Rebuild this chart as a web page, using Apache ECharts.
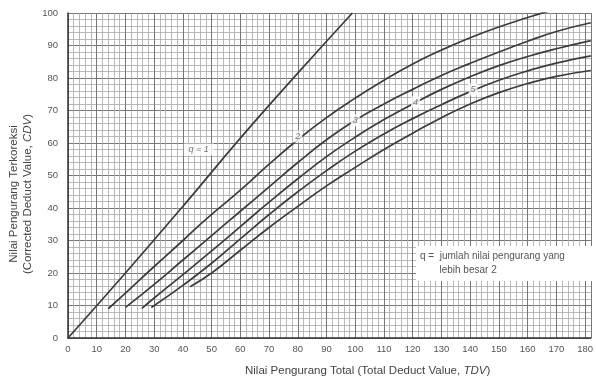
<!DOCTYPE html>
<html>
<head>
<meta charset="utf-8">
<script src="https://cdn.jsdelivr.net/npm/echarts@6/dist/echarts.min.js"></script>
<style>
  html, body { margin: 0; padding: 0; background: #fff; }
  #cdv { width: 596px; height: 385px; }
</style>
</head>
<body>
<div id="cdv"></div>
<script>
// x = TDV, y = CDV
const q1X = [0, 20, 40, 60, 80, 99];
const q1Y = [0, 20, 40.5, 61.5, 81.5, 100];

const q2X = [14, 20, 30, 40, 48, 60, 70, 80, 90, 100, 110, 120, 130, 140, 150, 160, 167];
const q2Y = [9, 13.8, 22, 30, 36.5, 45.5, 53.5, 61, 67.8, 73.8, 79.3, 84.3, 88.6, 92.4, 95.7, 98.6, 100.5];

const q3X = [20, 30, 40, 50, 60, 70, 80, 90, 100, 110, 120, 130, 140, 150, 160, 170, 182];
const q3Y = [9.4, 16.5, 24, 31.5, 39, 46.5, 54, 61, 67, 72, 76.5, 80.8, 84.5, 88, 91.3, 94.3, 97];

const q4X = [25.7, 30, 40, 50, 60, 70, 80, 90, 100, 110, 120, 130, 140, 150, 160, 170, 182];
const q4Y = [9.1, 12.3, 19.5, 26.8, 34.3, 41.8, 49, 55.8, 61.8, 67.2, 72, 76.5, 80.4, 83.8, 86.6, 89, 91.5];

const q5X = [29, 40, 50, 60, 70, 80, 90, 100, 110, 120, 130, 140, 150, 160, 170, 182];
const q5Y = [9.4, 16.2, 23, 30.5, 38, 45, 51.5, 57.5, 62.8, 67.5, 71.8, 75.8, 79.3, 82.2, 84.6, 86.8];

const q6X = [42.5, 50, 60, 70, 80, 90, 100, 110, 120, 130, 140, 150, 160, 170, 182];
const q6Y = [15.8, 20, 27, 34, 40.5, 46.8, 52.5, 58, 63, 67.8, 72, 75.5, 78.3, 80.5, 82.3];

// curve labels (text + where they sit in TDV/CDV)
const curveLabels = ['q = 1', '2', '3', '4', '5'];
const curveLabelX = [45.5, 80, 100, 121, 141];
const curveLabelY = [58, 62, 67, 72.5, 76.5];

const xTickStep = 10;
const yTickStep = 10;

const noteLines = ['q =  jumlah nilai pengurang yang', '       lebih besar 2'];

const pairs = (xs, ys) => xs.map((x, i) => [x, ys[i]]);

const chart = echarts.init(document.getElementById('cdv'));

const curve = (name, xs, ys) => ({
  name: name,
  type: 'line',
  smooth: true,
  showSymbol: false,
  silent: true,
  lineStyle: { color: '#3c3c3c', width: 1.7 },
  data: pairs(xs, ys),
  z: 3,
});

chart.setOption({
  animation: false,
  textStyle: { fontFamily: 'Liberation Sans, Arial, sans-serif' },
  grid: { left: 68, right: 0, top: 13, bottom: 47 },
  xAxis: {
    type: 'value',
    min: 0,
    max: 182,
    interval: xTickStep,
    axisLine: { show: true, onZero: false, lineStyle: { color: '#333', width: 1.5 } },
    axisTick: { show: false },
    axisLabel: {
      color: '#555',
      fontSize: 9.5,
      margin: 6,
      formatter: (v) => (v % 10 === 0 ? String(v) : ''),
    },
    splitLine: { show: true, lineStyle: { color: '#767676', width: 1 } },
    minorTick: { show: false, splitNumber: 5 },
    minorSplitLine: { show: true, lineStyle: { color: '#a8a8a8', width: 0.8 } },
  },
  yAxis: {
    type: 'value',
    min: 0,
    max: 100,
    interval: yTickStep,
    axisLine: { show: true, lineStyle: { color: '#333', width: 1.5 } },
    axisTick: { show: false },
    axisLabel: { color: '#555', fontSize: 9.5, margin: 10 },
    splitLine: { show: true, lineStyle: { color: '#767676', width: 1 } },
    minorTick: { show: false, splitNumber: 5 },
    minorSplitLine: { show: true, lineStyle: { color: '#a8a8a8', width: 0.8 } },
  },
  series: [
    curve('q1', q1X, q1Y),
    curve('q2', q2X, q2Y),
    curve('q3', q3X, q3Y),
    curve('q4', q4X, q4Y),
    curve('q5', q5X, q5Y),
    curve('q6', q6X, q6Y),
    {
      name: 'labels',
      type: 'scatter',
      silent: true,
      symbol: 'rect',
      symbolSize: (v, p) => (p.dataIndex === 0 ? [30, 12] : [9, 12]),
      itemStyle: { color: '#fff' },
      label: {
        show: true,
        position: 'inside',
        color: '#555',
        fontSize: 9,
        fontStyle: 'italic',
        formatter: (p) => curveLabels[p.dataIndex],
      },
      data: pairs(curveLabelX, curveLabelY),
      z: 5,
    },
  ],
  graphic: [
    {
      type: 'rect',
      left: 416,
      top: 246,
      shape: { width: 180, height: 35 },
      style: { fill: '#fff' },
      z: 10,
    },
    {
      type: 'text',
      left: 420,
      top: 249,
      style: {
        text: noteLines.join('\n'),
        fill: '#555',
        font: '10px Liberation Sans, Arial, sans-serif',
        lineHeight: 14,
      },
      z: 11,
    },
    {
      type: 'text',
      left: 245,
      top: 365,
      style: {
        text: '{n|Nilai Pengurang Total (Total Deduct Value, }{i|TDV}{n|)}',
        rich: {
          n: { fill: '#444', font: '11.5px Liberation Sans, Arial, sans-serif' },
          i: { fill: '#444', font: 'italic 11.5px Liberation Sans, Arial, sans-serif' },
        },
      },
    },
    {
      type: 'text',
      x: 7,
      y: 194,
      rotation: Math.PI / 2,
      style: {
        text: 'Nilai Pengurang Terkoreksi\n{n|(Corrected Deduct Value, }{i|CDV}{n|)}',
        align: 'center',
        verticalAlign: 'top',
        fill: '#444',
        font: '11.5px Liberation Sans, Arial, sans-serif',
        lineHeight: 14,
        rich: {
          n: { fill: '#444', font: '11.5px Liberation Sans, Arial, sans-serif' },
          i: { fill: '#444', font: 'italic 11.5px Liberation Sans, Arial, sans-serif' },
        },
      },
    },
  ],
});
</script>
</body>
</html>
